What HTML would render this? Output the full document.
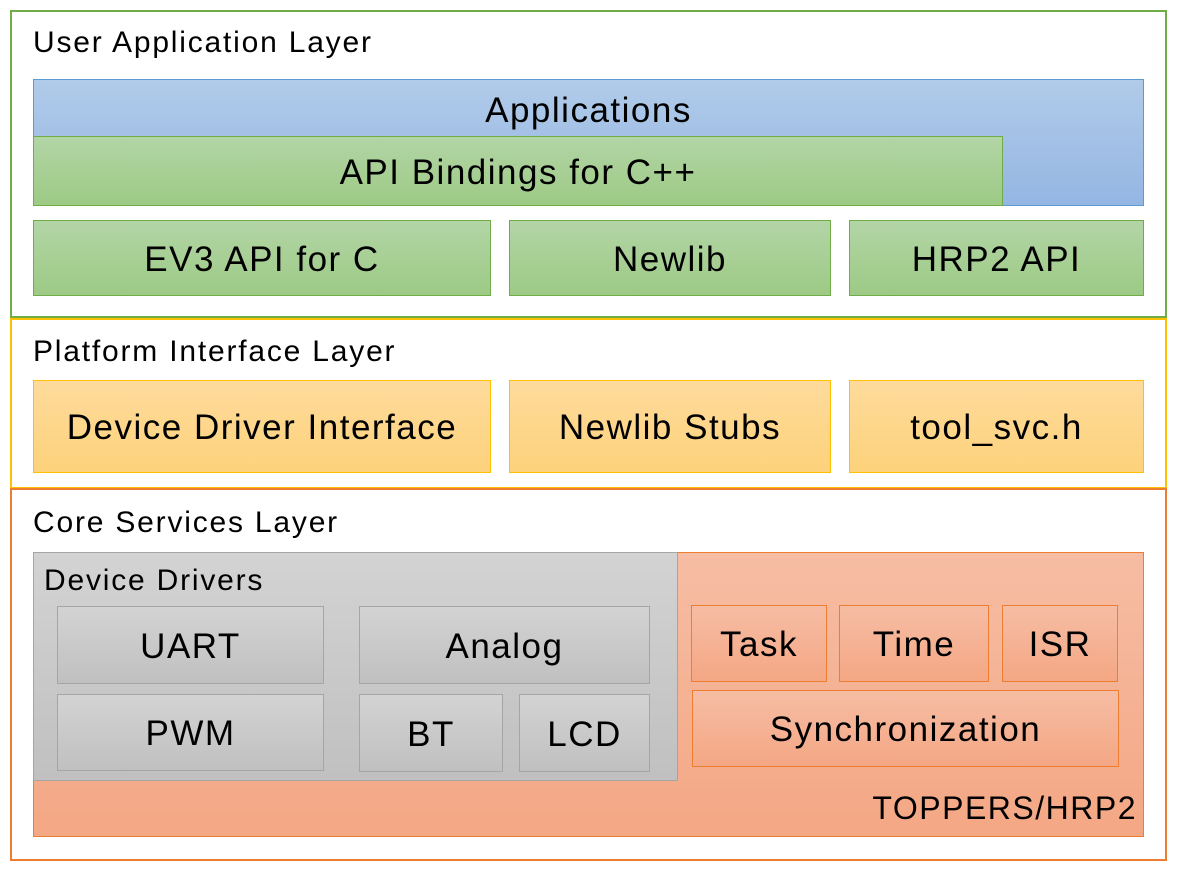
<!DOCTYPE html>
<html><head><meta charset="utf-8"><style>
body{margin:0;width:1177px;height:873px;background:#fff;position:relative;overflow:hidden;font-family:"Liberation Sans",sans-serif;color:#000}
div{position:absolute;box-sizing:border-box}
.c{display:flex;align-items:center;justify-content:center;font-size:35px;letter-spacing:1.5px;padding-top:3px}
.t{font-size:30px;letter-spacing:1.8px;white-space:nowrap}
.g{background:linear-gradient(#b3d5a6,#9dca85);border:1px solid #70ad47}
.y{background:linear-gradient(#fedb9c,#fdd27b);border:1px solid #ffc000}
.gr{background:linear-gradient(#d3d3d3,#c0c0c0);border:1px solid #a5a5a5}
.o{background:linear-gradient(#f6bda4,#f4a784);border:1px solid #ed7d31}
</style></head><body>
<div style="left:10px;top:10px;width:1157px;height:308px;border:2px solid #70ad47"></div>
<div style="left:10px;top:318px;width:1157px;height:171px;border:2px solid #ffc000"></div>
<div style="left:10px;top:488px;width:1157px;height:373px;border:2px solid #ed7d31"></div>

<div class="t" style="left:33px;top:26px">User Application Layer</div>
<div class="c" style="left:33px;top:79px;width:1111px;height:127px;background:linear-gradient(#b1cbe9,#94b6e3);border:1px solid #5b9bd5;align-items:flex-start;padding-top:11px">Applications</div>
<div class="c g" style="left:33px;top:136px;width:970px;height:70px">API Bindings for C++</div>
<div class="c g" style="left:33px;top:220px;width:458px;height:76px">EV3 API for C</div>
<div class="c g" style="left:509px;top:220px;width:322px;height:76px">Newlib</div>
<div class="c g" style="left:849px;top:220px;width:295px;height:76px">HRP2 API</div>

<div class="t" style="left:33px;top:335px">Platform Interface Layer</div>
<div class="c y" style="left:33px;top:380px;width:458px;height:93px">Device Driver Interface</div>
<div class="c y" style="left:509px;top:380px;width:322px;height:93px">Newlib Stubs</div>
<div class="c y" style="left:849px;top:380px;width:295px;height:93px">tool_svc.h</div>

<div class="t" style="left:33px;top:506px">Core Services Layer</div>
<div class="o" style="left:33px;top:552px;width:1111px;height:285px"></div>
<div class="gr" style="left:33px;top:552px;width:645px;height:229px"></div>
<div class="t" style="left:44px;top:564px">Device Drivers</div>
<div class="c gr" style="left:57px;top:606px;width:267px;height:78px">UART</div>
<div class="c gr" style="left:57px;top:694px;width:267px;height:77px">PWM</div>
<div class="c gr" style="left:359px;top:606px;width:291px;height:78px">Analog</div>
<div class="c gr" style="left:359px;top:694px;width:144px;height:78px">BT</div>
<div class="c gr" style="left:519px;top:694px;width:131px;height:78px">LCD</div>
<div class="c o" style="left:691px;top:605px;width:136px;height:77px">Task</div>
<div class="c o" style="left:839px;top:605px;width:150px;height:77px">Time</div>
<div class="c o" style="left:1002px;top:605px;width:116px;height:77px">ISR</div>
<div class="c o" style="left:692px;top:690px;width:427px;height:77px">Synchronization</div>
<div class="t" style="right:40px;top:790px;font-size:32px;letter-spacing:1.5px">TOPPERS/HRP2</div>
</body></html>
